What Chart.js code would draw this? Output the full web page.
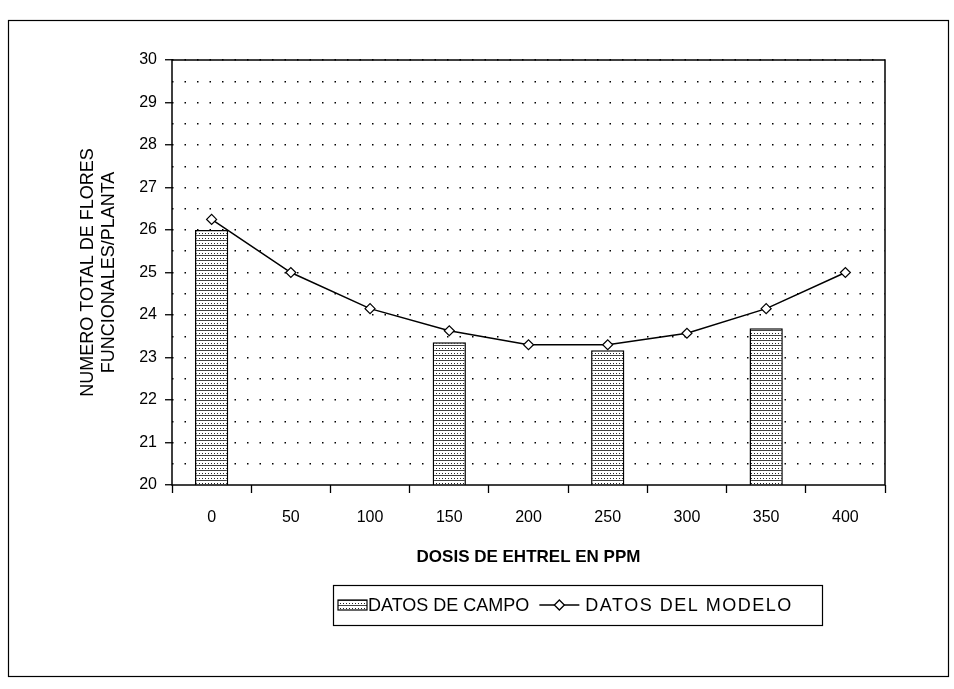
<!DOCTYPE html>
<html><head><meta charset="utf-8">
<script src="https://cdn.jsdelivr.net/npm/chart.js@4.4.0/dist/chart.umd.min.js"></script>
<style>html,body{margin:0;padding:0;background:#fff;}</style>
</head><body>
<canvas id="c" width="954" height="689"></canvas>
<script>
// ---- data ----
const categories = ['0', '50', '100', '150', '200', '250', '300', '350', '400'];
const datosCampo = [26.0, null, null, 23.36, null, 23.17, null, 23.69, null];
const datosModelo = [26.25, 25.0, 24.15, 23.63, 23.3, 23.3, 23.57, 24.15, 25.0];
const yTickLabels = ['20', '21', '22', '23', '24', '25', '26', '27', '28', '29', '30'];
const yMin = 20, yMax = 30;
const seriesNames = ['DATOS DE CAMPO', 'DATOS DEL MODELO'];
const xTitle = 'DOSIS DE EHTREL EN PPM';
const yTitle = ['NUMERO TOTAL DE FLORES', 'FUNCIONALES/PLANTA'];

const FONT = "'Liberation Sans', Arial, sans-serif";
const canvas = document.getElementById('c');
const ctx0 = canvas.getContext('2d');

function makePattern() {
  const p = document.createElement('canvas');
  p.width = 6; p.height = 5;
  const g = p.getContext('2d');
  g.fillStyle = '#fff'; g.fillRect(0, 0, 6, 5);
  g.fillStyle = '#444'; g.fillRect(0, 0, 6, 1);
  g.fillStyle = '#222'; g.fillRect(1, 3, 1, 1); g.fillRect(4, 3, 1, 1);
  return ctx0.createPattern(p, 'repeat');
}
const barPattern = makePattern();

const framePlugin = {
  id: 'frame',
  afterDraw(chart) {
    const ctx = chart.ctx;
    const a = chart.chartArea;
    ctx.save();
    ctx.strokeStyle = '#000';
    ctx.lineWidth = 1.5;
    ctx.strokeRect(a.left, a.top, a.right - a.left, a.bottom - a.top);
    // outer border
    ctx.lineWidth = 1.2;
    ctx.strokeRect(8.5, 20.5, 940, 656);
    // legend
    const lx = 333, ly = 585, lw = 489, lh = 40;
    ctx.lineWidth = 1.2;
    ctx.strokeRect(lx + 0.5, ly + 0.5, lw, lh);
    const cy = ly + lh / 2;
    ctx.fillStyle = barPattern;
    ctx.fillRect(lx + 5, cy - 5, 29, 10);
    ctx.strokeRect(lx + 5, cy - 5, 29, 10);
    ctx.fillStyle = '#000';
    ctx.font = '18px ' + FONT;
    ctx.textBaseline = 'middle';
    ctx.textAlign = 'left';
    ctx.fillText(seriesNames[0], lx + 35, cy + 1);
    const w0 = ctx.measureText(seriesNames[0]).width;
    const sx = lx + 35 + w0 + 10;
    ctx.lineWidth = 1.3;
    ctx.beginPath(); ctx.moveTo(sx, cy); ctx.lineTo(sx + 40, cy); ctx.stroke();
    ctx.beginPath();
    ctx.moveTo(sx + 20, cy - 5); ctx.lineTo(sx + 25, cy); ctx.lineTo(sx + 20, cy + 5); ctx.lineTo(sx + 15, cy); ctx.closePath();
    ctx.fillStyle = '#fff'; ctx.fill(); ctx.stroke();
    ctx.fillStyle = '#000';
    ctx.letterSpacing = '1.5px';
    ctx.fillText(seriesNames[1], sx + 46, cy + 1);
    ctx.letterSpacing = '0px';
    ctx.restore();
  }
};

new Chart(canvas, {
  data: {
    labels: categories,
    datasets: [
      {
        type: 'line', label: seriesNames[1], data: datosModelo,
        borderColor: '#000', borderWidth: 1.5, tension: 0,
        pointStyle: 'rectRot', pointRadius: 5, pointBackgroundColor: '#fff',
        pointBorderColor: '#000', pointBorderWidth: 1.2, order: 0
      },
      {
        type: 'bar', label: seriesNames[0], data: datosCampo,
        backgroundColor: barPattern, borderColor: '#000', borderWidth: 1.5,
        barPercentage: 0.42, categoryPercentage: 1.0, skipNull: true, order: 1
      }
    ]
  },
  options: {
    responsive: false, animation: false, devicePixelRatio: 1,
    layout: { padding: { top: 60, right: 69, left: 0, bottom: 114 } },
    plugins: { legend: { display: false }, tooltip: { enabled: false } },
    scales: {
      x: {
        type: 'category',
        offset: true,
        grid: { offset: true, drawOnChartArea: false, tickLength: 8, tickColor: '#000', tickWidth: 1.3 },
        border: { display: false },
        ticks: { color: '#000', font: { family: FONT, size: 16 }, padding: 15, maxRotation: 0 },
        title: { display: true, text: xTitle, color: '#000', font: { family: FONT, size: 17, weight: 'bold', lineHeight: 1.2 }, padding: { top: 0, bottom: 7 } },
        afterFit(s) { s.height = 90; }
      },
      y: {
        type: 'linear', min: yMin, max: yMax,
        grid: {
          color: (c) => (c.tick && c.tick.value === yMin) ? 'rgba(0,0,0,0)' : '#000',
          lineWidth: 1.5,
          tickLength: 7,
          tickColor: (c) => (c.tick && Number.isInteger(c.tick.value)) ? '#000' : 'rgba(0,0,0,0)',
          tickWidth: 1.3,
          tickBorderDash: []
        },
        border: { display: false, dash: [1.5, 11] },
        ticks: {
          stepSize: 0.5, autoSkip: false, color: '#000', padding: 8,
          font: { family: FONT, size: 16 },
          callback: (v) => Number.isInteger(v) ? yTickLabels[v - yMin] : ''
        },
        title: { display: true, text: yTitle, color: '#000', font: { family: FONT, size: 18, lineHeight: 1.15 }, padding: { top: 78, bottom: 0 } },
        afterFit(s) { s.width = 172; }
      }
    }
  },
  plugins: [framePlugin]
});
</script>
</body></html>
